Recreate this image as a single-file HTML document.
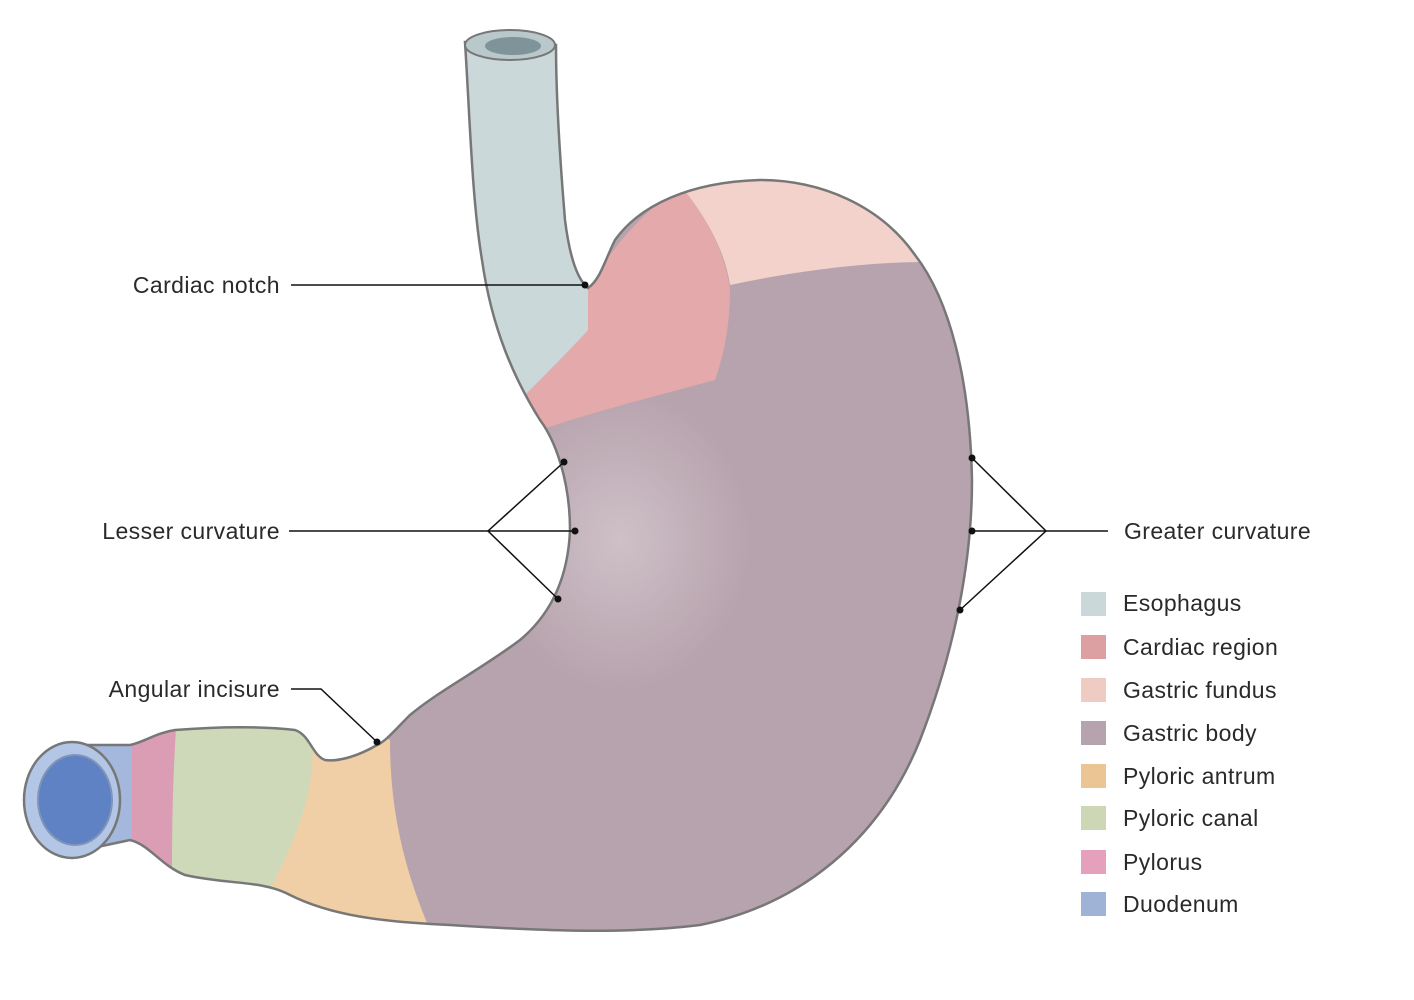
<!DOCTYPE html>
<html><head><meta charset="utf-8"><style>
html,body{margin:0;padding:0;background:#fff;width:1414px;height:1000px;overflow:hidden}
text{font-family:"Liberation Sans",sans-serif;fill:#2a2a2a;font-size:23px;letter-spacing:0.4px}
</style></head><body>
<svg width="1414" height="1000" viewBox="0 0 1414 1000" xmlns="http://www.w3.org/2000/svg">
<defs>
<clipPath id="st"><path id="sp" d="M465,42 C470,120 472,200 482,260 C492,330 515,380 540,420 C555,440 570,480 570,530 C568,580 550,615 520,640 C480,670 440,690 410,715 C395,730 385,742 377,745 C360,755 340,762 325,760 C312,755 310,735 295,730 C250,725 200,728 175,730 C155,733 145,742 130,745 L60,745 L60,855 L130,840 C150,845 160,865 185,875 C230,885 262,880 290,895 C330,915 380,922 450,925 C530,930 620,935 700,925 C800,905 880,840 920,740 C955,650 972,560 972,480 C970,380 950,300 915,255 C880,205 820,180 760,180 C690,182 640,205 615,240 C605,260 600,280 588,288 C578,280 570,260 565,220 C560,160 556,100 556,45 Z"/></clipPath>
<radialGradient id="hl" cx="0.5" cy="0.5" r="0.5"><stop offset="0" stop-color="#e6dde2" stop-opacity="0.5"/><stop offset="1" stop-color="#e6dde2" stop-opacity="0"/></radialGradient>
</defs>
<g clip-path="url(#st)">
<rect x="0" y="0" width="1414" height="1000" fill="#b7a3ad"/>
<ellipse cx="620" cy="540" rx="130" ry="150" fill="url(#hl)"/>
<path d="M300,700 L390,740 C390,800 400,860 430,930 L520,940 L260,960 L270,700 Z" fill="#f0cfa6"/>
<path d="M160,700 L310,720 C320,780 300,830 270,890 L170,900 Z" fill="#cdd9b9"/>
<path d="M130,700 L178,700 C172,780 172,830 172,900 L130,900 Z" fill="#db9db3"/>
<path d="M40,700 L132,700 L132,900 L40,900 Z" fill="#a3b8dc"/>
<path d="M440,0 L600,0 L600,300 C580,360 560,400 540,440 L440,440 Z" fill="#cbd8da"/>
<path d="M588,288 C610,250 640,215 680,185 C705,215 725,250 730,290 C730,330 722,360 715,380 C660,395 600,410 540,430 L520,400 C540,380 570,350 588,330 Z" fill="#e3a9ab"/>
<path d="M680,185 C720,170 800,165 860,185 C900,205 915,230 925,262 C870,262 800,270 730,285 C725,250 705,215 680,185 Z" fill="#f2d2cb"/>
</g>
<use href="#sp" fill="none" stroke="#777" stroke-width="2.5"/>
<ellipse cx="510" cy="45" rx="45" ry="15" fill="#b8c8cb" stroke="#777" stroke-width="2"/>
<ellipse cx="513" cy="46" rx="28" ry="9" fill="#7e9499"/>
<ellipse cx="72" cy="800" rx="48" ry="58" fill="#b3c6e6" stroke="#777" stroke-width="2.5"/>
<ellipse cx="75" cy="800" rx="37" ry="45" fill="#5f82c4" stroke="#8094b8" stroke-width="2"/>
<g stroke="#111" stroke-width="1.5" fill="none">
<line x1="291" y1="285" x2="585" y2="285"/>
<line x1="289" y1="531" x2="575" y2="531"/>
<polyline points="564,462 488,531 558,599"/>
<line x1="1108" y1="531" x2="972" y2="531"/>
<polyline points="972,458 1046,531 960,610"/>
<polyline points="291,689 321,689 377,742"/>
</g>
<g fill="#111">
<circle cx="585" cy="285" r="3.5"/><circle cx="564" cy="462" r="3.5"/><circle cx="575" cy="531" r="3.5"/><circle cx="558" cy="599" r="3.5"/>
<circle cx="972" cy="458" r="3.5"/><circle cx="972" cy="531" r="3.5"/><circle cx="960" cy="610" r="3.5"/><circle cx="377" cy="742" r="3.5"/>
</g>
<text x="280" y="293" text-anchor="end">Cardiac notch</text>
<text x="280" y="539" text-anchor="end">Lesser curvature</text>
<text x="280" y="697" text-anchor="end">Angular incisure</text>
<text x="1124" y="539">Greater curvature</text>
<rect x="1081" y="592" width="25" height="24" fill="#cbd8da"/><text x="1123" y="611">Esophagus</text>
<rect x="1081" y="635" width="25" height="24" fill="#dda0a2"/><text x="1123" y="655">Cardiac region</text>
<rect x="1081" y="678" width="25" height="24" fill="#eecbc3"/><text x="1123" y="698">Gastric fundus</text>
<rect x="1081" y="721" width="25" height="24" fill="#b7a3ad"/><text x="1123" y="741">Gastric body</text>
<rect x="1081" y="764" width="25" height="24" fill="#ebc593"/><text x="1123" y="784">Pyloric antrum</text>
<rect x="1081" y="806" width="25" height="24" fill="#cdd7b6"/><text x="1123" y="826">Pyloric canal</text>
<rect x="1081" y="850" width="25" height="24" fill="#e5a0bc"/><text x="1123" y="870">Pylorus</text>
<rect x="1081" y="892" width="25" height="24" fill="#9fb3d6"/><text x="1123" y="912">Duodenum</text>
</svg>
</body></html>
